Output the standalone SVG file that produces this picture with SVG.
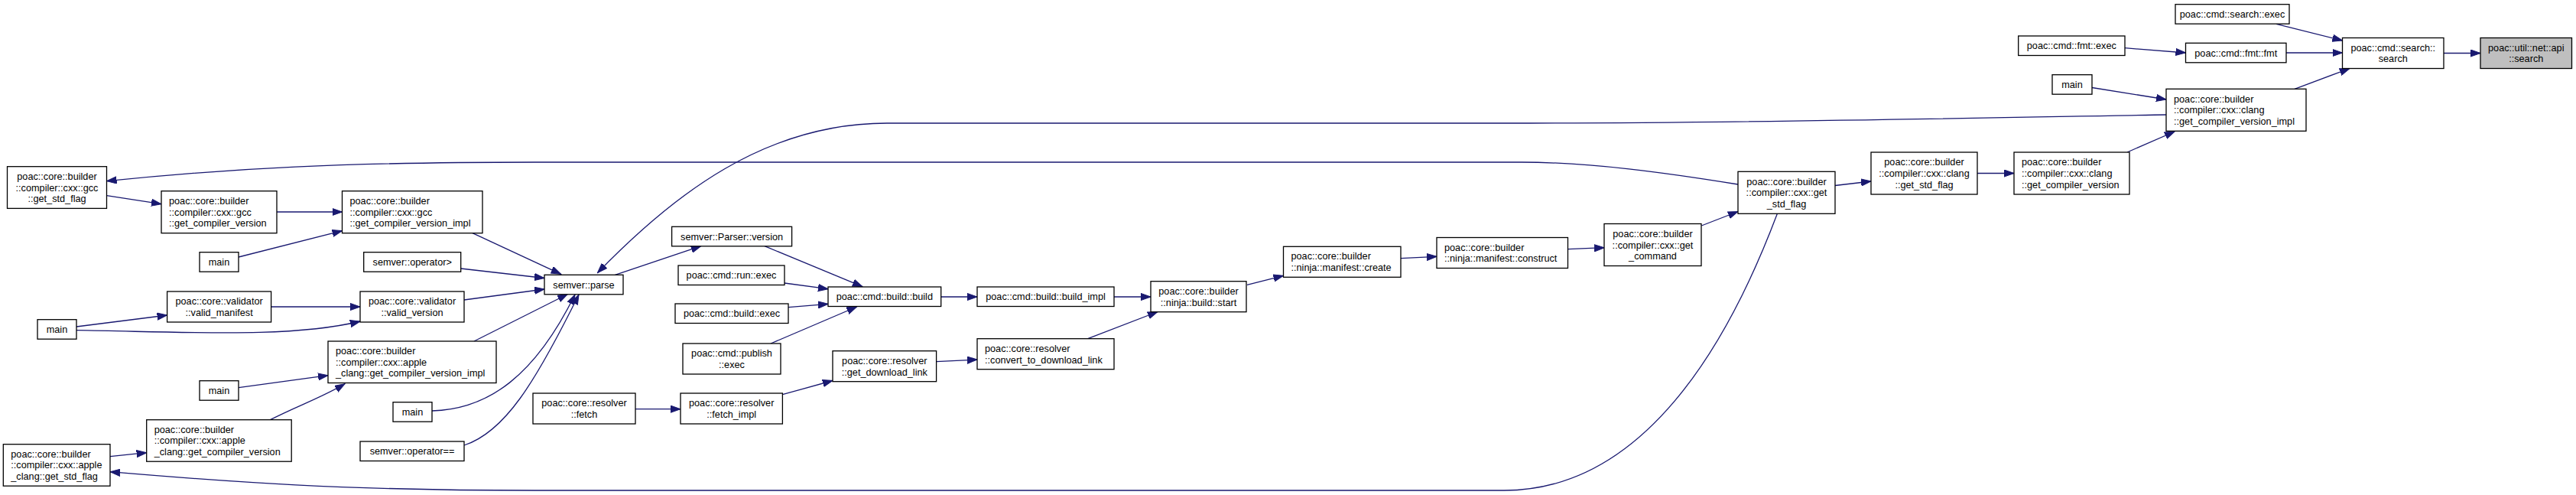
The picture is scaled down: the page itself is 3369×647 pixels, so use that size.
<svg xmlns="http://www.w3.org/2000/svg" width="3369" height="647" viewBox="0 0 3369 647">
<defs>
<marker id="a" markerUnits="userSpaceOnUse" markerWidth="14" markerHeight="10" refX="13" refY="5" orient="auto"><path d="M0,0.4 L13,5 L0,9.6 Z" fill="#191970" stroke="#191970" stroke-width="1"/></marker>
</defs>
<style>
.n rect{fill:#fff;stroke:#000;stroke-width:1.3}
.n.g rect{fill:#bfbfbf}
text{font-family:"Liberation Sans",Arial,Helvetica,sans-serif;font-size:12.7px;fill:#000}
.c{text-anchor:middle}
.e path{fill:none;stroke:#191970;stroke-width:1.3;marker-end:url(#a)}
</style>
<rect width="3369" height="647" fill="#fff"/>
<g class="e">
<path d="M3196,69.5 L3244,69.5"/>
<path d="M2977,31.3 L3063.5,53"/>
<path d="M2990,69 L3063.5,69"/>
<path d="M2779,62.7 L2858.5,69"/>
<path d="M3001,116.3 L3073,89.5"/>
<path d="M2736,114.5 L2833,130"/>
<path d="M2782,199 L2844,172"/>
<path d="M2586,226.5 L2634,226.5"/>
<path d="M2400,242.5 L2447,237"/>
<path d="M2225.3,295 L2273,276.5"/>
<path d="M2050.7,325.7 L2098.3,323.7"/>
<path d="M1832,337.7 L1879,335.3"/>
<path d="M1631,372.3 L1678.5,360.3"/>
<path d="M1457,388 L1505,388"/>
<path d="M1231,388 L1278,388"/>
<path d="M1422.7,442.7 L1514,407.5"/>
<path d="M1224.6,472.7 L1278,470"/>
<path d="M1023.4,515.7 L1089,497.5"/>
<path d="M831,534.7 L890,534.7"/>
<path d="M1000,321.7 L1128,374.7"/>
<path d="M1026,370 L1083,377.7"/>
<path d="M1031,401.7 L1083,397.3"/>
<path d="M1008,449 L1120.5,401"/>
<path d="M804.4,359.3 L916.7,321.7"/>
<path d="M2273,241 C2180,226 2080,212 1990,212 L700,212 C450,212 300,220 139.6,236.7"/>
<path d="M2324.5,279 C2260,450 2150,641 1967,641 L700,641 C450,641 300,630 144,616.7"/>
<path d="M2833,150 C2700,152 2300,161 2000,161 L1160,161 C1000,161 880,255 781.4,356.7"/>
<path d="M139.6,255.7 L211,266.7"/>
<path d="M362,277 L447.5,277"/>
<path d="M312,336 L447.5,301.7"/>
<path d="M618,304.7 L733.7,358.3"/>
<path d="M602.8,351 L712,363.5"/>
<path d="M607,392 L712,378"/>
<path d="M354.7,401 L471,401"/>
<path d="M100,427 L218.6,412"/>
<path d="M100,431.7 C250,434 380,442 471,420"/>
<path d="M620,446 L742.4,384.5"/>
<path d="M312,506.7 L429,490.7"/>
<path d="M353.4,548.7 C390,530 420,520 451,501.7"/>
<path d="M144,596.7 L191.7,591.7"/>
<path d="M565,537 C640,535 700,490 752,385"/>
<path d="M607,582 C660,565 700,500 757,385"/>
</g>
<g id="n1" class="n g"><rect x="3244" y="49.5" width="119.5" height="40"/><text class="c" x="3303.75" y="66.65">poac::util::net::api</text><text class="c" x="3303.75" y="81.35">::search</text></g>
<g id="n2" class="n"><rect x="3063.5" y="49.5" width="132.5" height="40"/><text class="c" x="3129.75" y="66.65">poac::cmd::search::</text><text class="c" x="3129.75" y="81.35">search</text></g>
<g id="n3" class="n"><rect x="2845" y="5.7" width="149" height="25.5"/><text class="c" x="2919.5" y="22.95">poac::cmd::search::exec</text></g>
<g id="n4" class="n"><rect x="2858.5" y="56.3" width="131.5" height="25.5"/><text class="c" x="2924.25" y="73.55">poac::cmd::fmt::fmt</text></g>
<g id="n5" class="n"><rect x="2639.7" y="47" width="139.3" height="25.5"/><text class="c" x="2709.35" y="64.25">poac::cmd::fmt::exec</text></g>
<g id="n6" class="n"><rect x="2684" y="97.7" width="52" height="25.5"/><text class="c" x="2710" y="114.95">main</text></g>
<g id="n7" class="n"><rect x="2833" y="116.3" width="183" height="55"/><text x="2843" y="133.6">poac::core::builder</text><text x="2843" y="148.3">::compiler::cxx::clang</text><text x="2843" y="163">::get_compiler_version_impl</text></g>
<g id="n8" class="n"><rect x="2634" y="199" width="151" height="55"/><text x="2644" y="216.3">poac::core::builder</text><text x="2644" y="231">::compiler::cxx::clang</text><text x="2644" y="245.7">::get_compiler_version</text></g>
<g id="n9" class="n"><rect x="2447" y="199" width="139" height="55"/><text class="c" x="2516.5" y="216.3">poac::core::builder</text><text class="c" x="2516.5" y="231">::compiler::cxx::clang</text><text class="c" x="2516.5" y="245.7">::get_std_flag</text></g>
<g id="n10" class="n"><rect x="2273" y="224.3" width="127" height="55"/><text class="c" x="2336.5" y="241.6">poac::core::builder</text><text class="c" x="2336.5" y="256.3">::compiler::cxx::get</text><text class="c" x="2336.5" y="271">_std_flag</text></g>
<g id="n11" class="n"><rect x="2098" y="292.5" width="127" height="55"/><text class="c" x="2161.5" y="309.8">poac::core::builder</text><text class="c" x="2161.5" y="324.5">::compiler::cxx::get</text><text class="c" x="2161.5" y="339.2">_command</text></g>
<g id="n12" class="n"><rect x="1879" y="310.5" width="171.5" height="40"/><text x="1889" y="327.65">poac::core::builder</text><text x="1889" y="342.35">::ninja::manifest::construct</text></g>
<g id="n13" class="n"><rect x="1678.5" y="322.3" width="153.5" height="40"/><text x="1688.5" y="339.45">poac::core::builder</text><text x="1688.5" y="354.15">::ninja::manifest::create</text></g>
<g id="n14" class="n"><rect x="1505" y="367.7" width="125" height="40"/><text class="c" x="1567.5" y="384.85">poac::core::builder</text><text class="c" x="1567.5" y="399.55">::ninja::build::start</text></g>
<g id="n15" class="n"><rect x="1278" y="375" width="179" height="25.5"/><text class="c" x="1367.5" y="392.25">poac::cmd::build::build_impl</text></g>
<g id="n16" class="n"><rect x="1083" y="375" width="147.7" height="25.5"/><text class="c" x="1156.85" y="392.25">poac::cmd::build::build</text></g>
<g id="n17" class="n"><rect x="1278" y="442.7" width="179" height="40"/><text x="1288" y="459.85">poac::core::resolver</text><text x="1288" y="474.55">::convert_to_download_link</text></g>
<g id="n18" class="n"><rect x="1089" y="458.7" width="135.6" height="40"/><text class="c" x="1156.8" y="475.85">poac::core::resolver</text><text class="c" x="1156.8" y="490.55">::get_download_link</text></g>
<g id="n19" class="n"><rect x="878.6" y="296.3" width="157" height="25.5"/><text class="c" x="957.1" y="313.55">semver::Parser::version</text></g>
<g id="n20" class="n"><rect x="887" y="347" width="139" height="25.5"/><text class="c" x="956.5" y="364.25">poac::cmd::run::exec</text></g>
<g id="n21" class="n"><rect x="883" y="397" width="148" height="25.5"/><text class="c" x="957" y="414.25">poac::cmd::build::exec</text></g>
<g id="n22" class="n"><rect x="893" y="449" width="128" height="40"/><text class="c" x="957" y="466.15">poac::cmd::publish</text><text class="c" x="957" y="480.85">::exec</text></g>
<g id="n23" class="n"><rect x="890" y="514" width="133.4" height="40"/><text class="c" x="956.7" y="531.15">poac::core::resolver</text><text class="c" x="956.7" y="545.85">::fetch_impl</text></g>
<g id="n24" class="n"><rect x="697" y="514" width="134" height="40"/><text class="c" x="764" y="531.15">poac::core::resolver</text><text class="c" x="764" y="545.85">::fetch</text></g>
<g id="n25" class="n"><rect x="712" y="359.3" width="103" height="25.5"/><text class="c" x="763.5" y="376.55">semver::parse</text></g>
<g id="n26" class="n"><rect x="447.5" y="249.7" width="183.5" height="55"/><text x="457.5" y="267">poac::core::builder</text><text x="457.5" y="281.7">::compiler::cxx::gcc</text><text x="457.5" y="296.4">::get_compiler_version_impl</text></g>
<g id="n27" class="n"><rect x="211" y="249.7" width="151" height="55"/><text x="221" y="267">poac::core::builder</text><text x="221" y="281.7">::compiler::cxx::gcc</text><text x="221" y="296.4">::get_compiler_version</text></g>
<g id="n28" class="n"><rect x="9.5" y="217.7" width="130" height="54.7"/><text class="c" x="74.5" y="234.85">poac::core::builder</text><text class="c" x="74.5" y="249.55">::compiler::cxx::gcc</text><text class="c" x="74.5" y="264.25">::get_std_flag</text></g>
<g id="n29" class="n"><rect x="261" y="329.7" width="51" height="25.5"/><text class="c" x="286.5" y="346.95">main</text></g>
<g id="n30" class="n"><rect x="475.7" y="329.7" width="127" height="25.5"/><text class="c" x="539.2" y="346.95">semver::operator&gt;</text></g>
<g id="n31" class="n"><rect x="471" y="381" width="136" height="40"/><text class="c" x="539" y="398.15">poac::core::validator</text><text class="c" x="539" y="412.85">::valid_version</text></g>
<g id="n32" class="n"><rect x="218.6" y="381" width="136" height="40"/><text class="c" x="286.6" y="398.15">poac::core::validator</text><text class="c" x="286.6" y="412.85">::valid_manifest</text></g>
<g id="n33" class="n"><rect x="49" y="417.7" width="51" height="25.5"/><text class="c" x="74.5" y="434.95">main</text></g>
<g id="n34" class="n"><rect x="429" y="446" width="220" height="54.5"/><text x="439" y="463.05">poac::core::builder</text><text x="439" y="477.75">::compiler::cxx::apple</text><text x="439" y="492.45">_clang::get_compiler_version_impl</text></g>
<g id="n35" class="n"><rect x="261" y="497.7" width="51" height="25.5"/><text class="c" x="286.5" y="514.95">main</text></g>
<g id="n36" class="n"><rect x="191.7" y="548.7" width="189.5" height="54.5"/><text x="201.7" y="565.75">poac::core::builder</text><text x="201.7" y="580.45">::compiler::cxx::apple</text><text x="201.7" y="595.15">_clang::get_compiler_version</text></g>
<g id="n37" class="n"><rect x="514" y="525.7" width="51" height="25.5"/><text class="c" x="539.5" y="542.95">main</text></g>
<g id="n38" class="n"><rect x="471" y="577" width="136" height="25.5"/><text class="c" x="539" y="594.25">semver::operator==</text></g>
<g id="n39" class="n"><rect x="4.3" y="580.7" width="139.7" height="54.5"/><text x="14.3" y="597.75">poac::core::builder</text><text x="14.3" y="612.45">::compiler::cxx::apple</text><text x="14.3" y="627.15">_clang::get_std_flag</text></g>
</svg>
